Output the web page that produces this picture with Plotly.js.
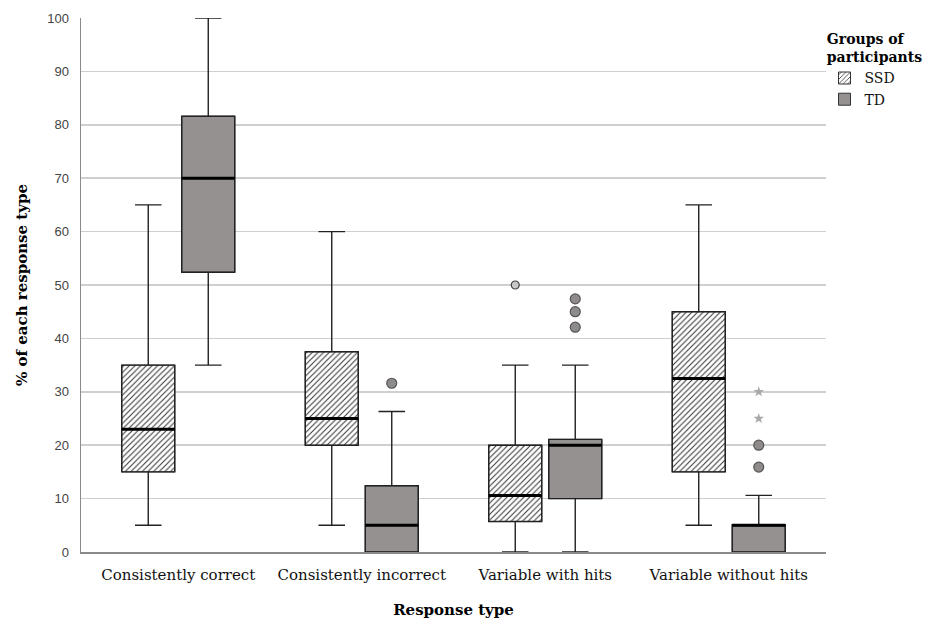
<!DOCTYPE html>
<html>
<head>
<meta charset="utf-8">
<script src="https://cdn.plot.ly/plotly-3.0.1.min.js"></script>
<style>html,body{margin:0;padding:0;background:#fff;}#chart{width:938px;height:621px;}</style>
</head>
<body>
<div id="chart"></div>
<script>
// ---- data ----
const categories = ["Consistently correct", "Consistently incorrect", "Variable with hits", "Variable without hits"];
const groups = ["SSD", "TD"];

const ssdLow  = [5, 5, 0, 5];
const ssdQ1   = [15, 20, 5.7, 15];
const ssdMed  = [23, 25, 10.6, 32.5];
const ssdQ3   = [35, 37.5, 20, 45];
const ssdHigh = [65, 60, 35, 65];

const tdLow  = [35, 0, 0, 0];
const tdQ1   = [52.4, 0, 10, 0];
const tdMed  = [70, 5, 20, 5];
const tdQ3   = [81.6, 12.4, 21.1, 5.1];
const tdHigh = [100, 26.3, 35, 10.6];

// outliers (category index, value)
const ssdOutCat = [2];
const ssdOutVal = [50];
const tdOutCat = [1, 2, 2, 2, 3, 3];
const tdOutVal = [31.6, 47.4, 45, 42.1, 20, 15.9];
const tdExtCat = [3, 3];
const tdExtVal = [30, 25];

const yTicks = [0, 10, 20, 30, 40, 50, 60, 70, 80, 90, 100];

// ---- layout helpers ----
const SERIF = 'DejaVu Serif';
const SANS = 'Liberation Sans';
const OFF = 0.1635, BW = 0.289;
const idx = categories.map((_, i) => i);
const xs = (arr, d) => arr.map(i => i + d);

function medianTrace(meds, d) {
  const x = [], y = [];
  meds.forEach((m, i) => { x.push(i + d - BW / 2, i + d + BW / 2, null); y.push(m, m, null); });
  return {type: 'scatter', mode: 'lines', x, y, line: {color: '#000', width: 3}, showlegend: false, hoverinfo: 'skip'};
}

const traces = [
  {type: 'bar', name: 'SSD', x: xs(idx, -OFF), base: ssdQ1, y: ssdQ3.map((v, i) => v - ssdQ1[i]), width: BW,
   marker: {color: '#ffffff', line: {width: 1, color: '#333'}, pattern: {shape: '/', fgcolor: '#333', bgcolor: '#ffffff', size: 4, solidity: 0.25}},
   showlegend: true, hoverinfo: 'skip'},
  {type: 'bar', name: 'TD', x: xs(idx, OFF), base: tdQ1, y: tdQ3.map((v, i) => v - tdQ1[i]), width: BW,
   marker: {color: '#959190', line: {width: 1, color: '#333'}}, showlegend: true, hoverinfo: 'skip'},
  {type: 'box', x: xs(idx, -OFF), q1: ssdQ1, median: ssdMed, q3: ssdQ3, lowerfence: ssdLow, upperfence: ssdHigh,
   width: BW, whiskerwidth: 0.5, fillcolor: 'rgba(0,0,0,0)', line: {color: '#222', width: 1.4}, boxpoints: false, showlegend: false, hoverinfo: 'skip'},
  {type: 'box', x: xs(idx, OFF), q1: tdQ1, median: tdMed, q3: tdQ3, lowerfence: tdLow, upperfence: tdHigh,
   width: BW, whiskerwidth: 0.5, fillcolor: 'rgba(0,0,0,0)', line: {color: '#222', width: 1.4}, boxpoints: false, showlegend: false, hoverinfo: 'skip'},
  medianTrace(ssdMed, -OFF),
  medianTrace(tdMed, OFF),
  {type: 'scatter', mode: 'markers', x: xs(ssdOutCat, -OFF), y: ssdOutVal,
   marker: {symbol: 'circle', size: 8, color: '#c8c8c8', line: {color: '#444', width: 1.2}}, showlegend: false, hoverinfo: 'skip'},
  {type: 'scatter', mode: 'markers', x: xs(tdOutCat, OFF), y: tdOutVal,
   marker: {symbol: 'circle', size: 10, color: '#8f8b8a', line: {color: '#555', width: 1.2}}, showlegend: false, hoverinfo: 'skip'},
  {type: 'scatter', mode: 'markers', x: xs(tdExtCat, OFF), y: tdExtVal,
   marker: {symbol: 'star', size: 8, color: '#a8a8a8', line: {width: 0}}, showlegend: false, hoverinfo: 'skip'}
];

const layout = {
  width: 938, height: 621,
  margin: {l: 81, r: 112, t: 18, b: 69, autoexpand: false},
  paper_bgcolor: '#fff', plot_bgcolor: '#fff',
  barmode: 'overlay',
  showlegend: true,
  font: {family: SERIF, color: '#000'},
  xaxis: {
    range: [-0.53, 3.53], tickvals: idx, ticktext: categories,
    showgrid: false, zeroline: false, showline: true, linecolor: '#8a8a8a', linewidth: 1.5,
    ticks: '', ticklabelstandoff: 8,
    tickfont: {family: SERIF, size: 15, color: '#111'},
    title: {text: '<b>Response type</b>', font: {family: SERIF, size: 15, color: '#000'}, standoff: 22}
  },
  yaxis: {
    range: [0, 100], tickvals: yTicks,
    showgrid: true, gridcolor: '#cfcfcf', gridwidth: 1.5, zeroline: false,
    showline: true, linecolor: '#8a8a8a', linewidth: 1.5,
    ticks: '', ticklabelstandoff: 8,
    tickfont: {family: SANS, size: 13, color: '#444'},
    title: {text: '<b>% of each response type</b>', font: {family: SERIF, size: 15, color: '#000'}, standoff: 16}
  },
  legend: {
    x: 0.998, xanchor: 'left', y: 0.985, yanchor: 'top',
    bgcolor: 'rgba(0,0,0,0)',
    font: {family: SERIF, size: 14, color: '#111'},
    title: {text: '<b>Groups of<br>participants</b>', side: 'top center', font: {family: SERIF, size: 14, color: '#000'}},
    itemwidth: 30, tracegroupgap: 0
  }
};

Plotly.newPlot('chart', traces, layout, {displayModeBar: false, staticPlot: true});
</script>
</body>
</html>
